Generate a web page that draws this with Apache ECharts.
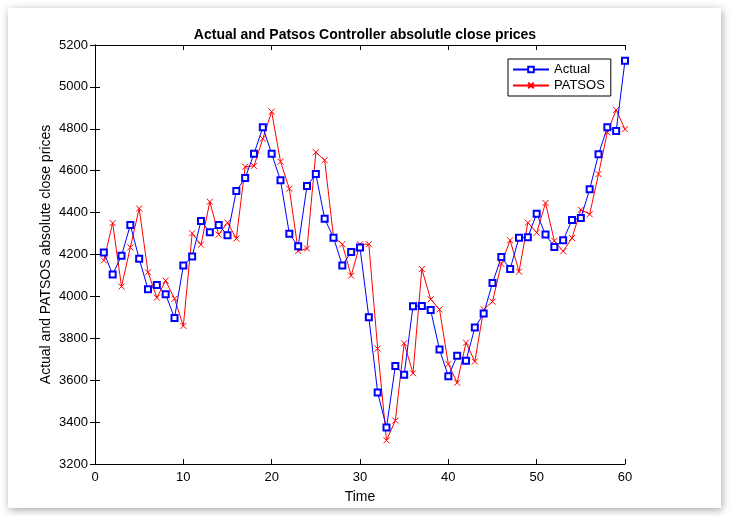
<!DOCTYPE html>
<html>
<head>
<meta charset="utf-8">
<script src="https://cdn.jsdelivr.net/npm/echarts@6/dist/echarts.min.js"></script>
<style>
html,body{margin:0;padding:0;background:#fff;}
#c{width:730px;height:516px;}
</style>
</head>
<body>
<div id="c"></div>
<script>
const time = [1,2,3,4,5,6,7,8,9,10,11,12,13,14,15,16,17,18,19,20,21,22,23,24,25,26,27,28,29,30,31,32,33,34,35,36,37,38,39,40,41,42,43,44,45,46,47,48,49,50,51,52,53,54,55,56,57,58,59,60];
const actual = [4210,4105,4194,4341,4180,4034,4054,4010,3897,4147,4190,4360,4306,4341,4292,4503,4565,4681,4807,4681,4554,4299,4239,4527,4584,4371,4280,4148,4212,4233,3900,3541,3374,3668,3626,3953,3954,3935,3746,3619,3717,3693,3851,3918,4064,4188,4131,4280,4282,4395,4295,4236,4268,4365,4374,4511,4678,4807,4790,5125];
const patsos = [4172,4350,4047,4234,4420,4115,3994,4075,3989,3859,4301,4247,4452,4295,4352,4276,4619,4623,4753,4882,4643,4514,4217,4228,4688,4650,4285,4249,4099,4249,4249,3751,3313,3407,3776,3633,4131,3986,3938,3677,3588,3779,3689,3938,3975,4155,4268,4118,4352,4304,4446,4265,4215,4279,4414,4392,4584,4783,4890,4798];
const xTicks = [0,10,20,30,40,50,60];
const yTicks = [3200,3400,3600,3800,4000,4200,4400,4600,4800,5000,5200];
const titleText = 'Actual and Patsos Controller absolutle close prices';
const xName = 'Time';
const yName = 'Actual and PATSOS absolute close prices';
const seriesNames = ['Actual','PATSOS'];

const FONT = 'Liberation Sans, Arial, sans-serif';
const chart = echarts.init(document.getElementById('c'), null, {renderer:'canvas'});
const baseAxis = {
  axisLine:{show:true,lineStyle:{color:'#000',width:1}},
  axisTick:{show:true,inside:true,length:5,lineStyle:{color:'#000'}},
  splitLine:{show:false}
};
chart.setOption({
  backgroundColor:'#ffffff',
  animation:false,
  graphic:[{
    type:'rect', z:-10, silent:true,
    shape:{x:8,y:8,width:713,height:500},
    style:{fill:'#fff',shadowBlur:8,shadowColor:'rgba(0,0,0,0.35)',shadowOffsetX:1,shadowOffsetY:2}
  }],
  title:{
    text:titleText, left:'center', top:23,
    textStyle:{fontFamily:FONT,fontSize:14,fontWeight:'bold',color:'#000'}
  },
  legend:{
    orient:'vertical', left:508, top:59,
    backgroundColor:'#fff', borderColor:'#000', borderWidth:1,
    padding:[4,6,4,4], itemGap:3, itemWidth:36, itemHeight:7,
    textStyle:{fontFamily:FONT,fontSize:13,color:'#000'},
    data:seriesNames
  },
  grid:{left:95,right:105,top:45,bottom:52},
  xAxis:[
    Object.assign({}, baseAxis, {
      type:'value', min:xTicks[0], max:xTicks[xTicks.length-1], interval:10, position:'bottom',
      name:xName, nameLocation:'middle', nameGap:26, nameMoveOverlap:false,
      nameTextStyle:{fontFamily:FONT,fontSize:14,color:'#000'},
      axisLabel:{margin:7,fontFamily:FONT,fontSize:13,color:'#000',formatter:v=>String(v)}
    }),
    Object.assign({}, baseAxis, {
      type:'value', min:xTicks[0], max:xTicks[xTicks.length-1], interval:10, position:'top',
      axisLabel:{show:false}
    })
  ],
  yAxis:[
    Object.assign({}, baseAxis, {
      type:'value', min:yTicks[0], max:yTicks[yTicks.length-1], interval:200, position:'left',
      name:yName, nameLocation:'middle', nameGap:42, nameMoveOverlap:false,
      nameTextStyle:{fontFamily:FONT,fontSize:14,color:'#000'},
      axisLabel:{margin:7,fontFamily:FONT,fontSize:13,color:'#000',formatter:v=>String(v)}
    }),
    Object.assign({}, baseAxis, {
      type:'value', min:yTicks[0], max:yTicks[yTicks.length-1], interval:200, position:'right',
      axisLabel:{show:false}
    })
  ],
  series:[
    {
      name:seriesNames[0], type:'line', xAxisIndex:0, yAxisIndex:0,
      data: time.map((t,i)=>[t,actual[i]]),
      symbol:'emptyRect', symbolSize:6,
      lineStyle:{color:'#0000ff',width:1},
      itemStyle:{color:'#0000ff',borderColor:'#0000ff',borderWidth:0.9},
      z:3
    },
    {
      name:seriesNames[1], type:'line', xAxisIndex:0, yAxisIndex:0,
      data: time.map((t,i)=>[t,patsos[i]]),
      symbol:'path://M0,0L10,10M10,0L0,10', symbolSize:6,
      lineStyle:{color:'#ff0000',width:1},
      itemStyle:{color:'#ff0000',borderColor:'#ff0000',borderWidth:1},
      z:2
    }
  ]
});
</script>
</body>
</html>
